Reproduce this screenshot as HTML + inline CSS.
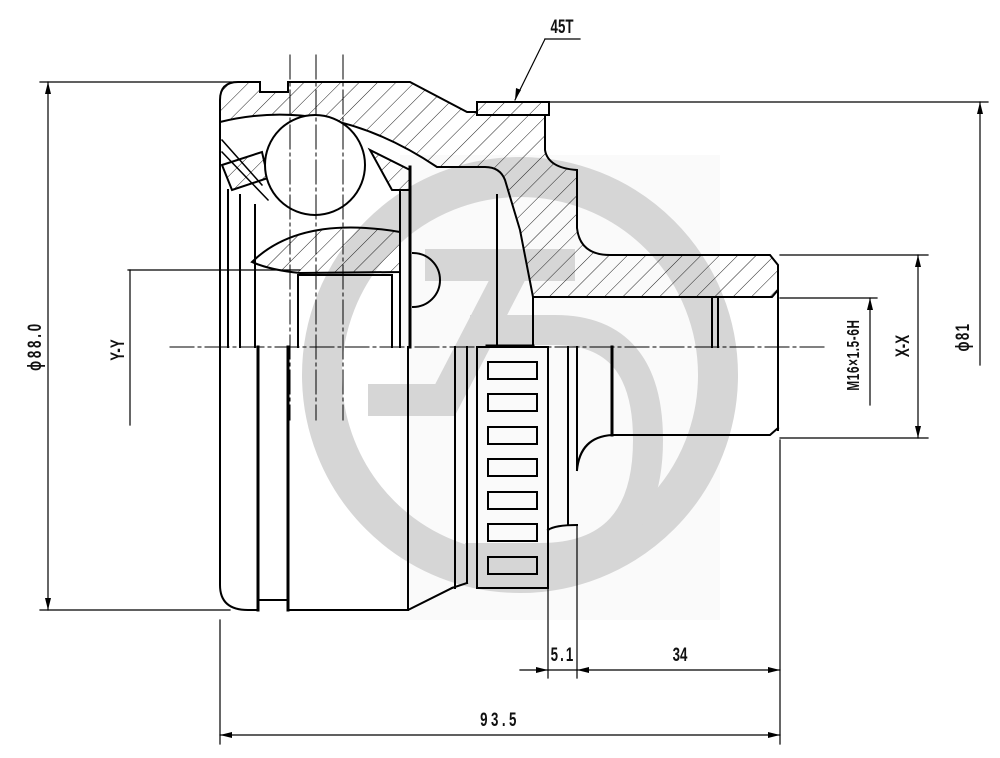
<!DOCTYPE html>
<html><head><meta charset="utf-8"><style>
html,body{margin:0;padding:0;background:#fff;}
svg{display:block;}
text{font-family:"Liberation Sans","DejaVu Sans",sans-serif;font-weight:bold;fill:#111;}
</style></head><body>
<svg width="1000" height="758" viewBox="0 0 1000 758" xmlns="http://www.w3.org/2000/svg">
<defs>
<pattern id="h" patternUnits="userSpaceOnUse" width="13" height="13" patternTransform="rotate(45)">
<line x1="0" y1="0" x2="0" y2="13" stroke="#222" stroke-width="1"/>
</pattern>
</defs>
<!-- watermark -->
<rect x="400" y="155" width="320" height="465" fill="#fafafa"/>
<circle cx="520" cy="375" r="198" fill="none" stroke="#d6d6d6" stroke-width="40"/>
<path d="M425 265 L575 265 M515 265 L445 400 L368 400" fill="none" stroke="#d6d6d6" stroke-width="32"/>
<path d="M470 330 L555 330 Q648 330 648 440 Q648 558 540 558 L465 558" fill="none" stroke="#d6d6d6" stroke-width="30"/>

<g stroke="#000" fill="none" stroke-linecap="square">
<path d="M220,122 L220,100 Q220,82 238,82 L260,82 L260,92 L288,92 L288,82 L410,82 L467,112 L477,112 L477,115 L545,115 L545,150 Q548,168 577,170 L577,228 Q580,255 610,255 L770,255 L778,265 L778,290 L772,297 L533,297 L520,230 L505,180 Q500,167 485,167 L437,167 Q330,95 220,122 Z" fill="url(#h)" stroke-width="2"/>
<rect x="477" y="102" width="72" height="13" fill="url(#h)" stroke-width="2"/>
<path d="M222,165 L262,152 L268,178 L232,190 Z" fill="url(#h)" stroke-width="2"/>
<path d="M222,140 L262,185 M222,152 L268,200" stroke-width="1.5"/>
<path d="M370,150 L410,170 L410,190 L392,190 Z" fill="url(#h)" stroke-width="2"/>
<path d="M252,262 Q300,215 400,232 L400,272 L300,273 Q270,270 252,262 Z" fill="url(#h)" stroke-width="2"/>
<circle cx="315" cy="165" r="50" fill="#fff" stroke-width="2"/>
<path d="M413,253 A27,27 0 0 1 413,307" stroke-width="2"/>

<g stroke-width="2">
<line x1="228" y1="190" x2="228" y2="347"/>
<line x1="240" y1="195" x2="240" y2="347"/>
<line x1="255" y1="205" x2="255" y2="347"/>
<line x1="298" y1="275" x2="298" y2="347"/>
<line x1="298" y1="275" x2="392" y2="275"/>
<line x1="392" y1="275" x2="392" y2="347"/>
<line x1="400" y1="190" x2="400" y2="347"/>
<line x1="410" y1="167" x2="410" y2="347" stroke-width="3"/>
<line x1="497" y1="195" x2="497" y2="347"/>
<line x1="533" y1="297" x2="533" y2="347"/>
<line x1="487" y1="346" x2="533" y2="346" stroke-width="3"/>
<line x1="712" y1="297" x2="712" y2="347"/>
<line x1="718" y1="297" x2="718" y2="347"/>
<line x1="778" y1="290" x2="778" y2="430"/>
</g>
<g stroke-width="2">
<path d="M220,122 L220,585 Q220,610 248,610 L258,610 L258,600 L288,600 L288,610 L408,610 L452,588"/>
<line x1="258" y1="347" x2="258" y2="610" stroke-width="3"/>
<line x1="288" y1="347" x2="288" y2="610" stroke-width="3"/>
<line x1="408" y1="347" x2="408" y2="610"/>
<line x1="455" y1="347" x2="455" y2="588"/>
<line x1="467" y1="347" x2="467" y2="583"/>
<path d="M452,588 L467,583"/>
<rect x="477" y="347" width="71" height="241"/>
<line x1="568" y1="347" x2="568" y2="525"/>
<line x1="577" y1="347" x2="577" y2="470"/>
<path d="M577,470 Q580,437 612,435 L770,435 L778,428"/>
<line x1="612" y1="347" x2="612" y2="435" stroke-width="3"/>
<path d="M548,530 Q555,525 577,525"/>
</g>
<g stroke-width="2">
<rect x="488" y="362" width="49" height="17"/>
<rect x="488" y="394" width="49" height="17"/>
<rect x="488" y="427" width="49" height="17"/>
<rect x="488" y="459" width="49" height="17"/>
<rect x="488" y="492" width="49" height="17"/>
<rect x="488" y="524" width="49" height="17"/>
<rect x="488" y="557" width="49" height="17"/>
</g>
<line x1="170" y1="347" x2="825" y2="347" stroke-width="1" stroke-dasharray="24,4,3,4"/>
<line x1="290" y1="55" x2="290" y2="420" stroke-width="1" stroke-dasharray="24,4,3,4"/>
<line x1="316" y1="55" x2="316" y2="420" stroke-width="1" stroke-dasharray="24,4,3,4"/>
<line x1="343" y1="55" x2="343" y2="420" stroke-width="1" stroke-dasharray="24,4,3,4"/>

<g stroke-width="1.2">
<line x1="40" y1="82" x2="238" y2="82"/>
<line x1="40" y1="610" x2="230" y2="610"/>
<line x1="48" y1="82" x2="48" y2="610"/>
<line x1="128" y1="270" x2="300" y2="270"/>
<line x1="130" y1="270" x2="130" y2="425"/>
<line x1="549" y1="102" x2="988" y2="102"/>
<line x1="980" y1="102" x2="980" y2="365"/>
<line x1="780" y1="255" x2="928" y2="255"/>
<line x1="780" y1="438" x2="928" y2="438"/>
<line x1="918" y1="255" x2="918" y2="438"/>
<line x1="780" y1="298" x2="877" y2="298"/>
<line x1="870" y1="298" x2="870" y2="405"/>
<line x1="548" y1="588" x2="548" y2="678"/>
<line x1="577" y1="525" x2="577" y2="678"/>
<line x1="520" y1="670" x2="780" y2="670"/>
<line x1="220" y1="620" x2="220" y2="744"/>
<line x1="780" y1="440" x2="780" y2="744"/>
<line x1="220" y1="735" x2="780" y2="735"/>
<line x1="545" y1="39" x2="580" y2="39"/>
<line x1="545" y1="39" x2="515" y2="100"/>
</g>
</g>
<g fill="#000">
<path d="M48,82 l-3,12 h6z M48,610 l-3,-12 h6z"/>
<path d="M980,102 l-3,12 h6z M918,255 l-3,12 h6z M918,438 l-3,-12 h6z M870,298 l-3,12 h6z"/>
<path d="M548,670 l-12,-3 v6z M577,670 l12,-3 v6z M780,670 l-12,-3 v6z"/>
<path d="M220,735 l12,-3 v6z M780,735 l-12,-3 v6z M515,100 l1,-12 l5,2z"/>
</g>
<g font-size="19">
<text transform="translate(562,33) scale(0.7,1)" text-anchor="middle">45T</text>
<text transform="translate(563,661) scale(0.7,1)" text-anchor="middle" letter-spacing="3">5.1</text>
<text transform="translate(680,661) scale(0.7,1)" text-anchor="middle">34</text>
<text transform="translate(500,726) scale(0.7,1)" text-anchor="middle" letter-spacing="5">93.5</text>
<text transform="translate(41,346) rotate(-90) scale(0.7,1)" text-anchor="middle" letter-spacing="4">ϕ88.0</text>
<text transform="translate(124,350) rotate(-90) scale(0.7,1)" text-anchor="middle">Y-Y</text>
<text transform="translate(859,355) rotate(-90) scale(0.65,1)" text-anchor="middle" font-size="18" letter-spacing="1">M16×1.5-6H</text>
<text transform="translate(909,346) rotate(-90) scale(0.7,1)" text-anchor="middle">X-X</text>
<text transform="translate(969,337) rotate(-90) scale(0.7,1)" text-anchor="middle" letter-spacing="2">ϕ81</text>
</g>
</svg>
</body></html>
